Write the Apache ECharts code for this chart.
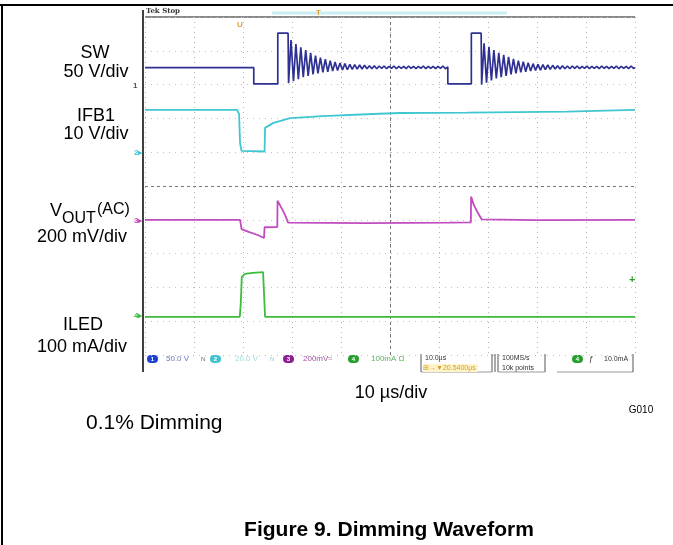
<!DOCTYPE html>
<html><head><meta charset="utf-8">
<script src="https://cdn.jsdelivr.net/npm/echarts@6/dist/echarts.min.js"></script>
<style>html,body{margin:0;padding:0;background:#fff}#c{width:673px;height:545px}</style>
</head><body><div id="c"></div>
<script>
// ---------- data (time in µs, 10 µs/div) ----------
const timeRange = [0, 100];
// SW node, volts
const swData = [
 [0,25],[22.2,25],[22.2,1],[27.1,1],[27.1,76],[29.2,76],
 [29.3,2],[29.8,66],[30.3,5],[30.8,60],[31.3,8],[31.8,55],[32.3,11],[32.8,51],[33.3,13],[33.8,47],
 [34.3,15],[34.8,43],[35.3,16.5],[35.8,40],[36.3,18],[36.8,37.5],[37.3,19],[37.8,35.5],[38.3,20],[38.8,33.5],
 [39.3,21],[39.8,32],[40.3,21.5],[40.8,31],[41.3,22],[41.8,30],[42.3,22.5],[42.8,29.5],[43.3,23],[43.8,29],
 [44.3,23],[44.8,28.5],[45.3,23.5],[45.8,28],[46.3,23.5],[46.8,28],[47.3,23.5],[47.8,27.5],[48.3,24],[48.8,27.5],
 [49.3,23.5],[49.8,27],[50.3,24],[50.8,27.5],[51.3,23.5],[51.8,27],[52.3,24],[52.8,27],[53.3,23.5],[53.8,27.5],
 [54.3,24],[54.8,27],[55.3,23.5],[55.8,27],[56.3,24],[56.8,27.5],[57.3,23.5],[57.8,27],[58.3,24],[58.8,27],
 [59.3,23.5],[59.8,27],[60.3,24],[60.8,27.5],[61.3,23.5],[61.8,26],
 [61.8,1],[66.6,1],[66.6,76],[68.6,76],
 [68.7,0],[69.2,61],[69.7,3],[70.2,56],[70.7,6],[71.2,51],[71.7,9],[72.2,47],[72.7,11],[73.2,44],
 [73.7,13],[74.2,41],[74.7,15],[75.2,38],[75.7,16.5],[76.2,35.5],[76.7,18],[77.2,34],[77.7,19],[78.2,32.5],
 [78.7,20],[79.2,31],[79.7,21],[80.2,30],[80.7,21.5],[81.2,29.5],[81.7,22],[82.2,29],[82.7,22.5],[83.2,28.5],
 [83.7,23],[84.2,28],[84.7,23],[85.2,28],[85.7,23.5],[86.2,27.5],[86.7,23.5],[87.2,27.5],[87.7,24],[88.2,27.5],
 [88.7,23.5],[89.2,27],[89.7,24],[90.2,27.5],[90.7,23.5],[91.2,27],[91.7,24],[92.2,27],[92.7,23.5],[93.2,27.5],
 [93.7,24],[94.2,27],[94.7,23.5],[95.2,27],[95.7,24],[96.2,27.5],[96.7,23.5],[97.2,27],[97.7,24],[98.2,27],
 [98.7,23.5],[99.2,27.5],[99.7,24],[100,25]
];
// IFB1, volts
const ifbData = [
 [0,12.5],[18.8,12.5],[19.2,11.3],[19.4,2.7],[19.7,0.4],[24.4,0.2],[24.5,7.2],[26.1,8.6],[29.6,10.1],
 [36.3,10.7],[46.5,11.3],[52,11.6],[65.7,11.7],[86.1,12.0],[100,12.5]
];
// VOUT (AC), mV
const voutData = [
 [0,0],[19.4,0],[19.7,-55],[21,-70],[23,-90],[24.3,-108],[24.4,-44],[27.0,-43],[27.05,113],[27.9,68],
 [28.6,28],[29.2,-17],[45,-20],[62,-17],[66.5,-15],[66.55,137],[67.1,88],[67.8,48],[68.7,3],[80,-2],[100,0]
];
// ILED, mA
const iledData = [
 [0,-2],[19.35,-2],[19.55,39],[19.75,116],[20.4,125],[22,128],[24.1,130],[24.4,128],[24.5,-2],[100,-2]
];
const channelNames = ['SW','IFB1','VOUT','ILED'];
const channelScales = [50, 10, 200, 100];       // units per division
const channelPositions = [3.0, 1.0, -1.0, -3.85]; // ground marker, divisions

// ---------- display ----------
const colors = ['#2e3192','#40c6d0','#c04cc0','#3cbc3c'];
const widths = [1.7, 1.8, 1.8, 1.8];
const FONT = '"Liberation Sans", Arial, sans-serif';
const toDiv = (d, i) => d.map(p => [p[0], channelPositions[i] + p[1] / channelScales[i]]);
const datasets = [swData, ifbData, voutData, iledData];

const series = datasets.map((d, i) => ({
  type: 'line', name: channelNames[i], data: toDiv(d, i), showSymbol: false, symbol: 'none',
  lineStyle: { color: colors[i], width: widths[i] }, z: 5, silent: true
}));
series.push({
  type: 'line', data: [], silent: true, z: 2,
  markLine: { silent: true, symbol: 'none', label: { show: false },
    lineStyle: { color: '#777', width: 1, type: [3, 3] },
    data: [{ xAxis: 50 }, { yAxis: 0 }] }
});

const T = (text, x, y, o) => ({ type: 'text', x, y, silent: true,
  style: Object.assign({ text, fill: '#000', font: '18px ' + FONT, align: 'center', verticalAlign: 'middle' }, o || {}) });
const L = (x1, y1, x2, y2, stroke, w) => ({ type: 'line', silent: true, shape: { x1, y1, x2, y2 }, style: { stroke, lineWidth: w } });
const pill = (x, y, fill, label, tc) => ([
  { type: 'rect', silent: true, shape: { x, y, width: 11, height: 8, r: 4 }, style: { fill } },
  T(label, x + 5.5, y + 4, { font: 'bold 6px ' + FONT, fill: tc || '#fff' })
]);
const small = (text, x, y, fill, o) => T(text, x, y, Object.assign({ font: '8px ' + FONT, fill, align: 'left' }, o || {}));

const graphics = [
  // page frame
  L(0, 5, 673, 5, '#000', 2), L(2, 5, 2, 545, '#000', 2),
  // scope left edge and top border
  L(143, 10, 143, 372, '#000', 1.5), L(145, 17, 635, 17, '#8a8a8a', 2),
  L(272, 13, 507, 13, '#c8f0f2', 3),
  small('Tek Stop', 146, 11, '#333', { font: 'bold 7px "DejaVu Serif", serif' }),
  small('U', 237, 25, '#e0a040', { font: 'bold 8px ' + FONT }),
  small('T', 316, 13, '#e0a040', { font: 'bold 8px ' + FONT }),
  small('+', 629, 280, '#30a030', { font: 'bold 11px ' + FONT }),
  // channel markers
  small('1', 133, 86, '#505070', { font: 'bold 8px ' + FONT }),
  small('2▸', 134, 153, '#40c6d0', { font: 'bold 8px ' + FONT }),
  small('3▸', 134, 221, '#c04cc0', { font: 'bold 8px ' + FONT }),
  small('4▸', 134, 316, '#3cbc3c', { font: 'bold 8px ' + FONT }),
  // left labels
  T('SW', 95, 53), T('50 V/div', 96, 72),
  T('IFB1', 96, 116), T('10 V/div', 96, 134),
  T('V', 50, 211, { align: 'left' }), T('OUT', 62, 219, { align: 'left', font: '16px ' + FONT }),
  T('(AC)', 97, 210, { align: 'left', font: '16px ' + FONT }),
  T('200 mV/div', 82, 237),
  T('ILED', 83, 325), T('100 mA/div', 82, 347),
  // bottom texts
  T('10 µs/div', 391, 393),
  T('G010', 641, 410, { font: '10px ' + FONT }),
  T('0.1% Dimming', 86, 423, { align: 'left', font: '21px ' + FONT }),
  T('Figure 9. Dimming Waveform', 389, 530, { font: 'bold 21px ' + FONT }),
  // scope readout bar
  ...pill(147, 355, '#1f3fd0', '1'), small('50.0 V', 166, 359, '#6a78b8'), small('N', 201, 359, '#666', { font: '6px ' + FONT }),
  ...pill(210, 355, '#40c4d0', '2'), small('20.0 V', 235, 359, '#a0dce0'), small('N', 270, 359, '#8cc', { font: '6px ' + FONT }),
  ...pill(283, 355, '#8c2090', '3'), small('200mV', 303, 359, '#a050a0'), small('≈', 328, 359, '#999'),
  ...pill(348, 355, '#28a030', '4'), small('100mA Ω', 371, 359, '#60b060'),
  L(421, 354, 421, 372, '#555', 1), L(492, 354, 492, 372, '#555', 1), L(421, 372, 492, 372, '#999', 1),
  small('10.0µs', 425, 358, '#333', { font: '7px ' + FONT }),
  { type: 'rect', silent: true, shape: { x: 423, y: 364, width: 55, height: 8 }, style: { fill: '#fff3c8' } },
  small('⊞→▼20.5400µs', 423, 368, '#d0a030', { font: '7px ' + FONT }),
  L(495, 354, 495, 372, '#555', 1), L(498, 354, 498, 372, '#555', 1), L(545, 354, 545, 372, '#555', 1),
  L(498, 372, 545, 372, '#999', 1),
  small('100MS/s', 502, 358, '#333', { font: '7px ' + FONT }),
  small('10k points', 502, 368, '#333', { font: '7px ' + FONT }),
  ...pill(572, 355, '#28a030', '4'), small('ƒ', 589, 359, '#333'), small('10.0mA', 604, 359, '#333', { font: '7px ' + FONT }),
  L(557, 372, 633, 372, '#999', 1), L(633, 354, 633, 372, '#555', 1)
];

const chart = echarts.init(document.getElementById('c'), null, { renderer: 'canvas' });
chart.setOption({
  animation: false,
  backgroundColor: '#fff',
  grid: { left: 145, right: 38, top: 17, bottom: 190 },
  xAxis: { type: 'value', min: timeRange[0], max: timeRange[1], interval: 10,
    axisLine: { show: false }, axisTick: { show: false }, axisLabel: { show: false },
    splitLine: { show: true, lineStyle: { color: '#b4b4b4', width: 1, type: [1, 4] } } },
  yAxis: { type: 'value', min: -5, max: 5, interval: 1,
    axisLine: { show: false }, axisTick: { show: false }, axisLabel: { show: false },
    splitLine: { show: true, lineStyle: { color: '#c0c0c0', width: 1, type: [1, 5] } } },
  series,
  graphic: { elements: graphics }
});
</script>
</body></html>
